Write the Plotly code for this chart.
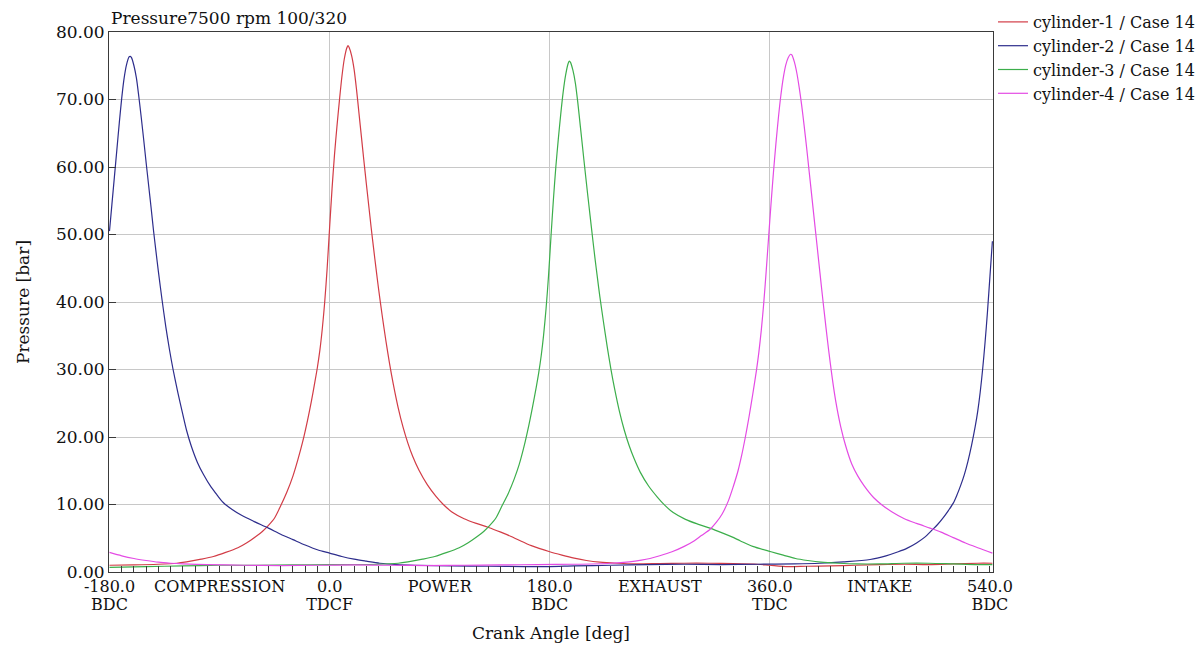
import plotly.graph_objects as go

# ---------------- data ----------------
title_text = "Pressure7500 rpm 100/320"
series_names = ["cylinder-1 / Case 14", "cylinder-2 / Case 14",
                "cylinder-3 / Case 14", "cylinder-4 / Case 14"]
series_colors = ["#d23c46", "#2d2d8c", "#3cae4b", "#e44be4"]

cyl1_angle = [-180, -160, -140, -125, -117, -105, -95, -85, -75, -68,
              -60, -55, -50, -45, -40, -35, -30, -26, -22, -18,
              -15, -12, -10, -8, -6, -4, -2, 0, 2, 4,
              6, 8, 10, 12, 14, 15, 16, 18, 20, 22,
              24, 26, 28, 30, 32, 34, 36, 38, 40, 43,
              46, 49, 52, 56, 60, 64, 68, 73, 80, 87,
              93, 100, 110, 120, 130, 140, 148, 155, 165, 180,
              190, 200, 210, 221, 235, 250, 270, 290, 310, 330,
              350, 360, 375, 390, 410, 430, 450, 470, 490, 510,
              530, 542]
cyl1_p = [1.0, 1.05, 1.15, 1.3, 1.5, 1.9, 2.3, 2.9, 3.6, 4.3,
          5.3, 6.0, 6.9, 8.0, 9.8, 11.8, 14.2, 16.6, 19.3, 22.5,
          25.2, 28.2, 30.3, 32.8, 36.0, 40.0, 45.0, 51.0, 56.8, 61.8,
          66.0, 69.8, 73.3, 76.0, 77.6, 78.0, 77.7, 76.5, 74.5, 71.5,
          68.0, 64.5, 61.0, 57.6, 54.3, 51.0, 47.9, 44.9, 42.0, 38.0,
          34.3, 30.9, 27.9, 24.4, 21.5, 19.1, 17.1, 15.1, 12.9, 11.2,
          10.0, 8.9, 7.9, 7.2, 6.6, 5.9, 5.3, 4.7, 3.9, 3.0,
          2.5, 2.05, 1.7, 1.45, 1.3, 1.2, 1.25, 1.3, 1.3, 1.25,
          1.15, 1.0, 0.8, 0.85, 0.9, 1.0, 1.1, 1.15, 1.1, 1.2,
          1.3, 1.3]

cyl2_angle = [-180, -178, -176, -174, -172, -170, -168, -166, -164, -163,
              -162, -160, -158, -156, -154, -152, -150, -148, -146, -144,
              -142, -140, -137, -134, -131, -128, -124, -120, -117, -113,
              -108, -103, -97, -92, -87, -80, -72, -62, -50, -40,
              -30, -20, -10, 0, 10, 20, 30, 41, 55, 70,
              100, 130, 160, 180, 200, 230, 260, 290, 320, 350,
              380, 401, 420, 442, 455, 465, 472, 480, 487, 492,
              497, 502, 506, 510, 513, 516, 519, 522, 525, 528,
              530, 532, 534, 536, 538, 540, 542]
cyl2_p = [50.5, 54.5, 58.5, 62.5, 66.5, 70.2, 73.2, 75.2, 76.3, 76.4,
          76.2, 75.0, 73.2, 70.4, 67.3, 64.0, 60.6, 57.3, 54.0, 50.6,
          47.5, 44.5, 40.3, 36.4, 33.0, 30.0, 26.5, 23.3, 21.0, 18.6,
          16.2, 14.4, 12.6, 11.4, 10.3, 9.3, 8.4, 7.5, 6.5, 5.6,
          4.8, 4.0, 3.3, 2.8, 2.3, 1.9, 1.6, 1.3, 1.1, 1.0,
          0.9, 0.85, 0.8, 0.8, 0.9, 1.0, 1.1, 1.15, 1.1, 1.15,
          1.2, 1.3, 1.5, 1.85, 2.4, 3.0, 3.5, 4.3, 5.2, 6.1,
          7.0, 8.1, 9.1, 10.2, 11.4, 12.8, 14.4, 16.4, 18.8, 21.6,
          23.8, 26.6, 30.0, 34.0, 38.6, 43.8, 49.0]

cyl3_angle = [-180, -150, -120, -90, -60, -30, 0, 20, 40, 56,
              64, 76, 86, 96, 106, 113, 121, 126, 131, 136,
              141, 146, 151, 155, 159, 163, 166, 169, 171, 173,
              175, 177, 179, 181, 183, 185, 187, 189, 191, 193,
              195, 196, 197, 199, 201, 203, 205, 207, 209, 211,
              213, 215, 217, 219, 221, 224, 227, 230, 233, 237,
              241, 245, 249, 254, 261, 268, 274, 281, 291, 301,
              311, 321, 329, 336, 346, 361, 371, 381, 391, 402,
              416, 431, 450, 470, 490, 510, 530, 542]
cyl3_p = [0.7, 0.8, 0.9, 1.0, 1.0, 1.05, 1.1, 1.1, 1.15, 1.3,
          1.5, 1.9, 2.3, 2.9, 3.6, 4.3, 5.3, 6.0, 6.9, 8.0,
          9.8, 11.6, 13.8, 15.9, 18.6, 21.8, 24.5, 27.4, 29.5, 32.0,
          35.1, 39.0, 43.8, 49.6, 55.1, 60.0, 64.1, 67.8, 71.1, 73.6,
          75.3, 75.7, 75.5, 74.3, 72.4, 69.5, 66.1, 62.7, 59.3, 56.0,
          52.8, 49.6, 46.5, 43.6, 40.8, 37.0, 33.4, 30.1, 27.2, 23.8,
          21.0, 18.7, 16.8, 14.8, 12.7, 11.1, 9.9, 8.8, 7.8, 7.1,
          6.5, 5.8, 5.2, 4.6, 3.8, 3.0, 2.5, 2.0, 1.7, 1.45,
          1.3, 1.2, 1.2, 1.3, 1.3, 1.2, 1.1, 1.1]

cyl4_angle = [-180, -170, -160, -150, -140, -130, -120, -100, -70, -40,
              -10, 20, 50, 80, 110, 140, 170, 200, 230, 245,
              255, 262, 270, 280, 290, 298, 304, 311, 316, 321,
              326, 330, 334, 337, 340, 343, 346, 349, 351, 353,
              355, 357, 359, 361, 363, 365, 367, 369, 371, 373,
              375, 377, 378, 380, 382, 384, 386, 388, 390, 392,
              394, 396, 398, 400, 402, 404, 406, 408, 411, 414,
              418, 422, 427, 432, 437, 445, 452, 460, 470, 480,
              491, 500, 510, 520, 530, 542]
cyl4_p = [2.9, 2.4, 2.0, 1.7, 1.45, 1.3, 1.2, 1.1, 1.0, 0.95,
          1.0, 1.05, 1.0, 0.95, 1.0, 1.05, 1.1, 1.15, 1.3, 1.5,
          1.75, 2.0, 2.4, 3.0, 3.8, 4.6, 5.4, 6.3, 7.3, 8.6,
          10.5, 12.6, 15.0, 17.3, 20.0, 23.0, 26.3, 29.8, 32.5, 35.8,
          39.8, 44.5, 49.6, 54.6, 59.3, 63.5, 67.3, 70.6, 73.2, 75.1,
          76.2, 76.7, 76.6, 75.6, 74.0, 71.8, 69.2, 66.2, 63.0, 59.6,
          56.2, 52.8, 49.4, 46.0, 42.6, 39.3, 36.1, 33.0, 28.8, 25.2,
          21.5, 18.7, 16.0, 14.2, 12.8, 11.0, 9.9, 8.9, 7.9, 7.2,
          6.5, 5.9, 5.1, 4.3, 3.6, 2.8]

x_tick_vals = [-180, -90, 0, 90, 180, 270, 360, 450, 540]
x_tick_line1 = ["-180.0", "COMPRESSION", "0.0", "POWER", "180.0",
                "EXHAUST", "360.0", "INTAKE", "540.0"]
x_tick_line2 = ["BDC", "", "TDCF", "", "BDC", "", "TDC", "", "BDC"]
x_grid_vals = [0, 180, 360]
y_tick_vals = [0, 10, 20, 30, 40, 50, 60, 70, 80]

x_range = [-180.4, 542.5]
y_range = [0, 80]

# ---------------- figure ----------------
FONT = "DejaVu Serif"
GRID = "#c8c8c8"
FRAME = "#3a3a3a"

fig = go.Figure()
all_x = [cyl1_angle, cyl2_angle, cyl3_angle, cyl4_angle]
all_y = [cyl1_p, cyl2_p, cyl3_p, cyl4_p]
for name, xs, ys, col in zip(series_names, all_x, all_y, series_colors):
    fig.add_trace(go.Scatter(x=xs, y=ys, mode="lines", name=name,
                             line=dict(color=col, width=1.2, shape="spline",
                                       smoothing=0.8),
                             hoverinfo="x+y+name"))

# empty helper traces so that the overlay x axes are drawn
for ax in ["x2", "x3", "x4"]:
    fig.add_trace(go.Scatter(x=[], y=[], xaxis=ax, yaxis="y",
                             showlegend=False, hoverinfo="skip"))

fig.update_layout(
    width=1202, height=648,
    margin=dict(l=109, r=209, t=32, b=76, autoexpand=False),
    paper_bgcolor="white", plot_bgcolor="white",
    font=dict(family=FONT, size=16, color="#111"),
    showlegend=True,
    legend=dict(x=1.0, xanchor="left", y=1.05, yanchor="top",
                font=dict(family=FONT, size=16, color="#111"),
                bgcolor="rgba(0,0,0,0)", borderwidth=0,
                tracegroupgap=0, itemwidth=30),
    xaxis=dict(range=x_range, tickmode="array", tickvals=x_grid_vals,
               showticklabels=False, ticks="", showgrid=True,
               gridcolor=GRID, gridwidth=1, zeroline=False,
               showline=True, mirror=True, linecolor=FRAME, linewidth=1,
               title=dict(text="Crank Angle [deg]",
                          font=dict(family=FONT, size=17), standoff=55)),
    xaxis2=dict(overlaying="x", anchor="y", side="bottom", range=x_range,
                tickmode="array", tickvals=x_tick_vals, ticktext=x_tick_line1,
                ticks="", showgrid=False, zeroline=False, showline=False,
                tickfont=dict(family=FONT, size=16, color="#111"),
                ticklabelstandoff=3),
    xaxis3=dict(overlaying="x", anchor="y", side="bottom", range=x_range,
                tickmode="array", tickvals=x_tick_vals, ticktext=x_tick_line2,
                ticks="", showgrid=False, zeroline=False, showline=False,
                tickfont=dict(family=FONT, size=16, color="#111"),
                ticklabelstandoff=21),
    xaxis4=dict(overlaying="x", anchor="y", side="bottom", range=x_range,
                tickmode="linear", tick0=-180, dtick=10, ticks="inside",
                ticklen=6, tickcolor=FRAME, tickwidth=1,
                showticklabels=False, showgrid=False, zeroline=False,
                showline=False),
    yaxis=dict(range=y_range, tickmode="array", tickvals=y_tick_vals,
               tickformat=".2f", ticks="inside", ticklen=7, tickcolor=FRAME,
               showgrid=True, gridcolor=GRID, gridwidth=1, zeroline=False,
               showline=True, mirror=True, linecolor=FRAME, linewidth=1,
               tickfont=dict(family=FONT, size=17, color="#111"),
               title=dict(text="Pressure [bar]",
                          font=dict(family=FONT, size=17), standoff=21)),
    annotations=[dict(text=title_text, xref="paper", yref="paper",
                      x=0, y=1, xanchor="left", yanchor="bottom",
                      showarrow=False, yshift=2,
                      font=dict(family=FONT, size=17, color="#111"))],
)

fig.write_html("out.html")
